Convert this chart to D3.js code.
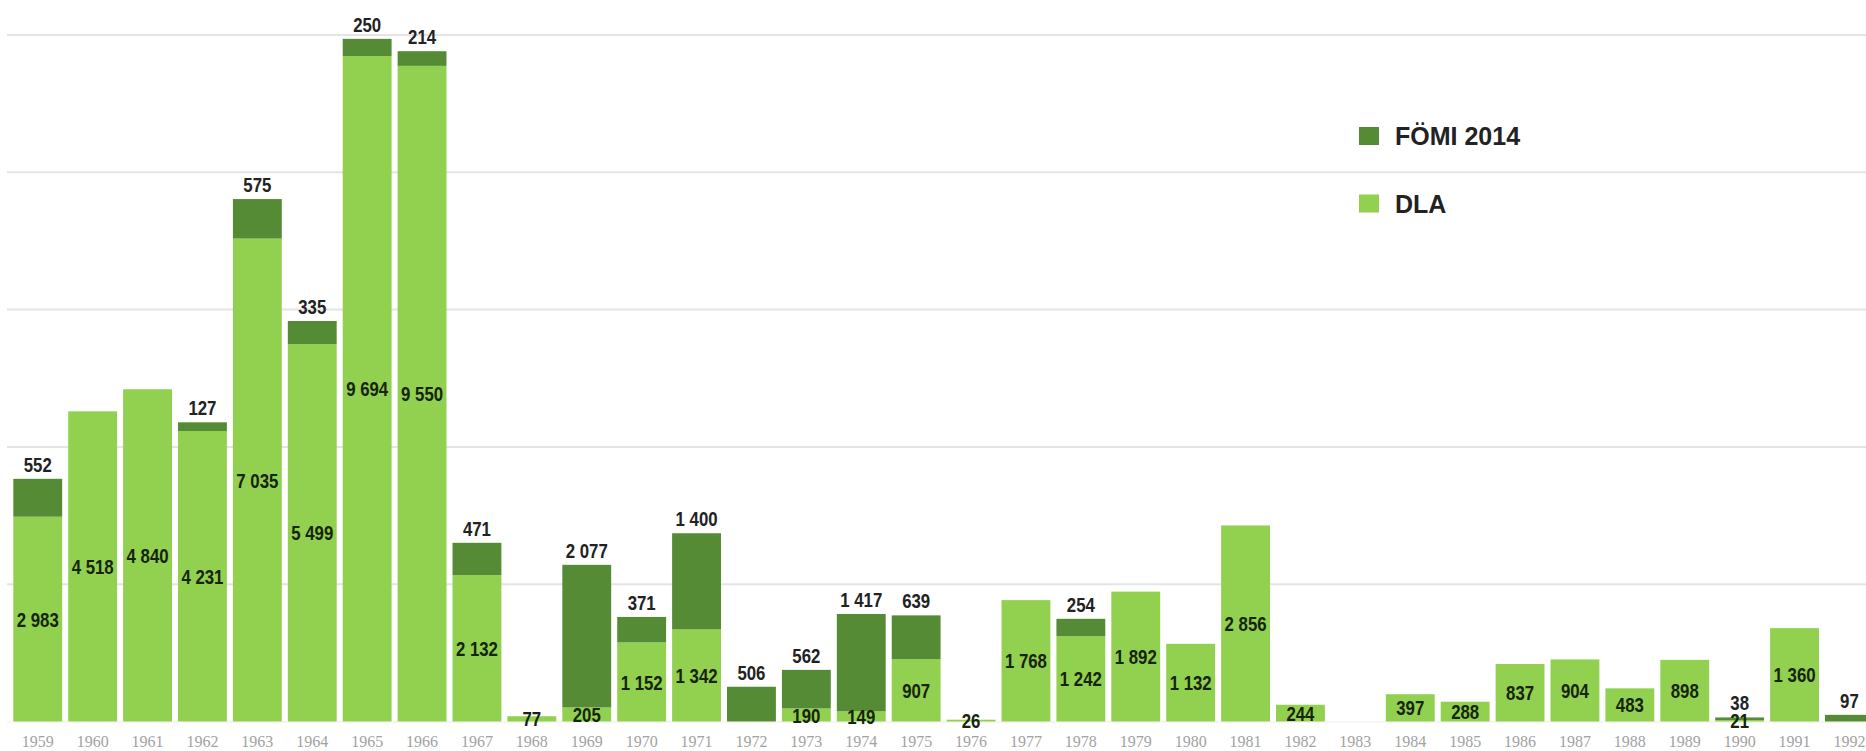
<!DOCTYPE html>
<html>
<head>
<meta charset="utf-8">
<script src="https://cdn.jsdelivr.net/npm/d3@7"></script>
<style>
    body { margin: 0; background: #fff; }
</style>
</head>
<body>
<div id="chart"></div>
<script>
var years = ["1959", "1960", "1961", "1962", "1963", "1964", "1965", "1966", "1967", "1968",
    "1969", "1970", "1971", "1972", "1973", "1974", "1975", "1976", "1977", "1978",
    "1979", "1980", "1981", "1982", "1983", "1984", "1985", "1986", "1987", "1988",
    "1989", "1990", "1991", "1992"];

// DLA (light green, lower part)
var dla = [2983, 4518, 4840, 4231, 7035, 5499, 9694, 9550, 2132, 77,
    205, 1152, 1342, 0, 190, 149, 907, 26, 1768, 1242,
    1892, 1132, 2856, 244, 0, 397, 288, 837, 904, 483,
    898, 21, 1360, 0];

// FÖMI 2014 (dark green, upper part)
var fomi = [552, 0, 0, 127, 575, 335, 250, 214, 471, 0,
    2077, 371, 1400, 506, 562, 1417, 639, 0, 0, 254,
    0, 0, 0, 0, 0, 0, 0, 0, 0, 0,
    0, 38, 0, 97];

var gridValues = [2000, 4000, 6000, 8000, 10000];
var seriesNames = ["FÖMI 2014", "DLA"];
var seriesColors = ["#558b35", "#92d050"];

function init() {
    var width = 1866,
        height = 751;

    var SVG = d3.select("#chart")
        .append("svg")
        .attr("width", width)
        .attr("height", height);

    var data = years.map(function (d, i) {
        return { year: d, dla: dla[i], fomi: fomi[i] };
    });

    var x = d3.scaleBand()
        .domain(years)
        .range([10.3, 10.3 + 34 * 54.9])
        .paddingInner(0.11)
        .paddingOuter(0.055);

    var y = d3.scaleLinear()
        .domain([0, 10000])
        .range([721.5, 35]);

    var fmt = d3.formatLocale({ decimal: ",", thousands: " ", grouping: [3], currency: ["", ""] }).format(",");

    // gridlines
    SVG.append("g")
        .selectAll("line")
        .data(gridValues)
        .enter()
        .append("line")
        .attr("x1", 7)
        .attr("x2", width)
        .attr("y1", function (d) { return y(d); })
        .attr("y2", function (d) { return y(d); })
        .style("stroke", "#e4e4e4")
        .style("stroke-width", 2);

    SVG.append("line")
        .attr("x1", 7)
        .attr("x2", width)
        .attr("y1", y(0) + 0.5)
        .attr("y2", y(0) + 0.5)
        .style("stroke", "#ececec")
        .style("stroke-width", 1);

    var bars = SVG.append("g");

    bars.selectAll("rect.dla")
        .data(data.filter(function (d) { return d.dla > 0; }))
        .enter()
        .append("rect")
        .attr("class", "dla")
        .attr("x", function (d) { return x(d.year); })
        .attr("width", x.bandwidth())
        .attr("y", function (d) { return y(d.dla); })
        .attr("height", function (d) { return y(0) - y(d.dla); })
        .style("fill", seriesColors[1]);

    bars.selectAll("rect.fomi")
        .data(data.filter(function (d) { return d.fomi > 0; }))
        .enter()
        .append("rect")
        .attr("class", "fomi")
        .attr("x", function (d) { return x(d.year); })
        .attr("width", x.bandwidth())
        .attr("y", function (d) { return y(d.dla + d.fomi); })
        .attr("height", function (d) { return y(d.dla) - y(d.dla + d.fomi); })
        .style("fill", seriesColors[0]);

    // narrow bold labels: squeeze horizontally since no narrow font is installed
    var labelFont = "'Liberation Sans', Arial, sans-serif";
    function squeeze(cx, cy) {
        return "translate(" + cx + "," + cy + ") scale(0.8,1)";
    }

    // DLA values inside the bars
    SVG.append("g")
        .selectAll("text")
        .data(data.filter(function (d) { return d.dla > 0; }))
        .enter()
        .append("text")
        .attr("transform", function (d) {
            return squeeze(x(d.year) + x.bandwidth() / 2, (y(0) + y(d.dla)) / 2);
        })
        .attr("dy", "0.36em")
        .attr("text-anchor", "middle")
        .style("font-family", labelFont)
        .style("font-weight", "bold")
        .style("font-size", "21px")
        .style("fill", "#17240c")
        .text(function (d) { return fmt(d.dla); });

    // FÖMI values above the bars
    SVG.append("g")
        .selectAll("text")
        .data(data.filter(function (d) { return d.fomi > 0; }))
        .enter()
        .append("text")
        .attr("transform", function (d) {
            return squeeze(x(d.year) + x.bandwidth() / 2, y(d.dla + d.fomi) - 7);
        })
        .attr("text-anchor", "middle")
        .style("font-family", labelFont)
        .style("font-weight", "bold")
        .style("font-size", "21px")
        .style("fill", "#222")
        .text(function (d) { return fmt(d.fomi); });

    // year labels
    SVG.append("g")
        .selectAll("text")
        .data(years)
        .enter()
        .append("text")
        .attr("x", function (d) { return x(d) + x.bandwidth() / 2; })
        .attr("y", 747)
        .attr("text-anchor", "middle")
        .style("font-family", "'Liberation Serif', serif")
        .style("font-size", "16px")
        .style("fill", "#a2a2a2")
        .text(function (d) { return d; });

    // legend
    var legend = SVG.append("g")
        .selectAll("g")
        .data(seriesNames)
        .enter()
        .append("g")
        .attr("transform", function (d, i) { return "translate(1359," + (127 + i * 67.5) + ")"; });

    legend.append("rect")
        .attr("width", 20)
        .attr("height", 18)
        .style("fill", function (d, i) { return seriesColors[i]; });

    legend.append("text")
        .attr("x", 36)
        .attr("y", 9)
        .attr("dy", "0.36em")
        .style("font-family", "'Liberation Sans', Arial, sans-serif")
        .style("font-weight", "bold")
        .style("font-size", "25px")
        .style("fill", "#222")
        .text(function (d) { return d; });
}

window.onload = init;
</script>
</body>
</html>
